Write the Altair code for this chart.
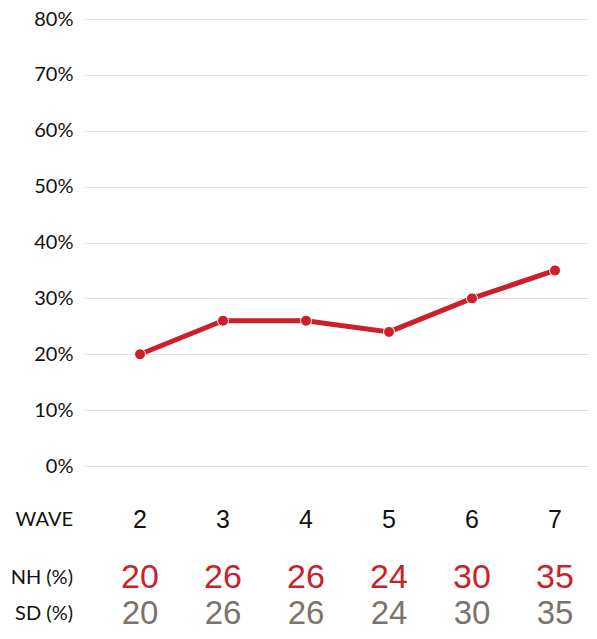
import altair as alt
import pandas as pd

waves = [2, 3, 4, 5, 6, 7]
nh = [20, 26, 26, 24, 30, 35]
sd = [20, 26, 26, 24, 30, 35]
row_labels = ["WAVE", "NH (%)", "SD (%)"]

RED = "#cc1f2a"
GRAY = "#7b736c"

df = pd.DataFrame({"wave": waves, "nh": nh, "sd": sd})
df["nh_pct"] = df["nh"] / 100

TOP = 11
W, H = 505, 458 - TOP
xscale = alt.Scale(domain=[2 - 56 / 83, 2 - 56 / 83 + W / 83], nice=False, zero=False)
yscale = alt.Scale(domain=[0, 0.8], nice=False)
X = alt.X("wave:Q", scale=xscale, axis=None)
yaxis = alt.Axis(values=[i / 10 for i in range(9)], format=".0%", title=None,
                 domain=False, ticks=False, labelPadding=11,
                 labelFont="Lato", labelFontSize=20, labelColor="#111",
                 gridColor="#e3e3e3", gridWidth=1.2)
Y = alt.Y("nh_pct:Q", scale=yscale, axis=yaxis)

row_y = [520 - 8 - TOP, 578 - 8 - TOP, 614 - 8 - TOP]

base = alt.Chart(df)

line = base.mark_line(color=RED, strokeWidth=5).encode(x=X, y=Y)
pts = base.mark_point(filled=True, color=RED, size=120, opacity=1,
                      stroke="white", strokeWidth=1).encode(x=X, y=Y)

wave_txt = base.mark_text(font="Liberation Sans", fontSize=25, color="#111", baseline="middle").encode(
    x=X, y=alt.value(row_y[0]), text="wave:Q")
nh_txt = base.mark_text(font="Liberation Sans", fontSize=34, color=RED, baseline="middle").encode(
    x=X, y=alt.value(row_y[1]), text="nh:Q")
sd_txt = base.mark_text(font="Liberation Sans", fontSize=33, color=GRAY, baseline="middle").encode(
    x=X, y=alt.value(row_y[2]), text="sd:Q")

lab_df = pd.DataFrame({"label": row_labels, "ypos": row_y})
labels = alt.Chart(lab_df).mark_text(font="Lato", fontSize=20, color="#111", align="right",
                                     baseline="middle").encode(
    x=alt.value(-11), y=alt.Y("ypos:Q", scale=None, axis=None), text="label:N")

chart = alt.layer(line, pts, wave_txt, nh_txt, sd_txt, labels).properties(
    width=W, height=H,
    background="white",
    autosize=alt.AutoSizeParams(type="none"),
    padding={"left": 76, "top": TOP, "right": 0, "bottom": 623 - TOP - H},
).configure_view(strokeWidth=0).configure_axis(domain=False)

chart.save("out.html", embed_options={"renderer": "svg", "actions": False})
